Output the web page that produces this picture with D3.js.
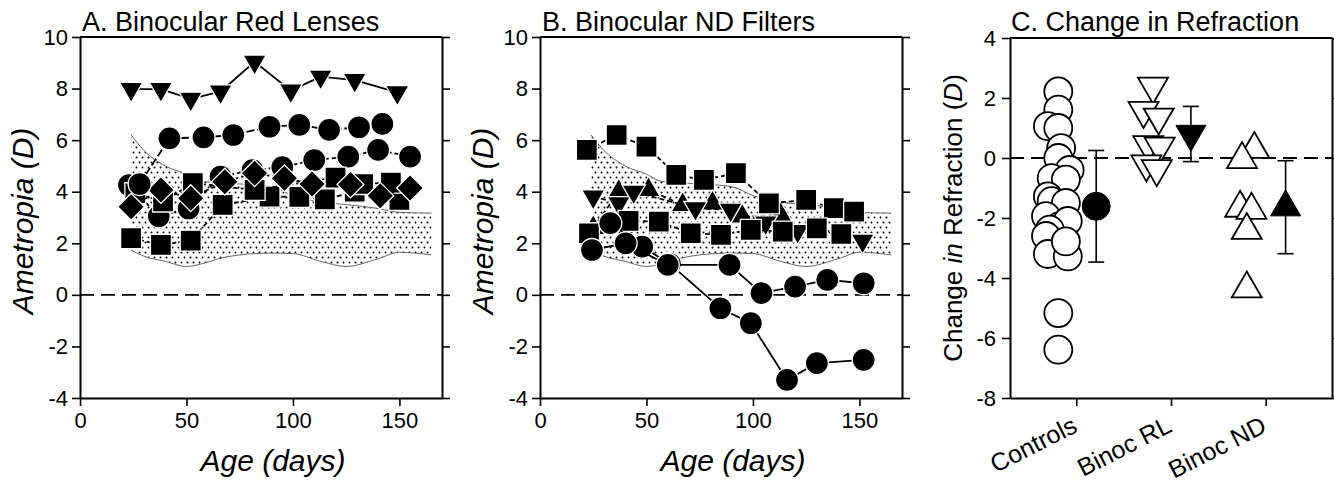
<!DOCTYPE html>
<html>
<head>
<meta charset="utf-8">
<script src="https://cdn.jsdelivr.net/npm/d3@7"></script>
<style>
  body { margin: 0; background: #fff; }
  text { font-family: "Liberation Sans", Arial, sans-serif; fill: #000; }
</style>
</head>
<body>
<div id="chart"></div>
<script>
// ---- data ----
// normal range of untreated monkeys (shaded band), same in A and B
const bandAge = [24, 30, 40, 50, 57, 65, 75, 90, 100, 113, 125, 140, 150, 165];
const bandLo  = [1.74, 1.5, 1.3, 1.1, 1.2, 1.4, 1.55, 1.62, 1.6, 1.3, 1.1, 1.4, 1.65, 1.55];
const bandHi  = [6.2, 5.6, 5.0, 4.68, 4.4, 4.35, 4.3, 4.2, 3.85, 3.6, 3.5, 3.35, 3.2, 3.17];

// A. binocular red lenses
const redTriAge = [24, 38, 52, 66, 82, 99, 113, 129, 149];
const redTriVal = [7.98, 7.98, 7.6, 7.88, 9.04, 7.92, 8.46, 8.33, 7.85];
const redCirc1Age = [28, 42, 58, 72, 89, 103, 117, 131, 142];
const redCirc1Val = [4.3, 6.07, 6.11, 6.2, 6.52, 6.59, 6.4, 6.5, 6.63];
const redCirc2Age = [23, 37, 51, 66, 81, 95, 110, 126, 140, 155];
const redCirc2Val = [4.26, 3.05, 3.35, 4.59, 4.84, 4.95, 5.23, 5.36, 5.62, 5.36];
const redSq1Age = [24, 38, 52, 67, 89, 103, 115, 129, 150];
const redSq1Val = [2.2, 1.94, 2.1, 3.49, 3.81, 3.8, 3.7, 4.0, 3.68];
const redSq2Age = [26, 39, 53, 82, 120, 133, 146];
const redSq2Val = [3.94, 3.62, 4.33, 4.07, 4.55, 4.3, 4.35];
const redDiaAge = [24, 38, 52, 68, 82, 96, 109, 127, 141, 155];
const redDiaVal = [3.42, 4.07, 3.75, 4.39, 4.72, 4.52, 4.3, 4.28, 3.84, 4.14];

// B. binocular ND filters
const ndSq1Age = [22, 36, 50, 64, 77, 92, 107.5, 125, 138, 147.5];
const ndSq1Val = [5.62, 6.2, 5.75, 4.65, 4.46, 4.72, 3.55, 3.68, 3.36, 3.23];
const ndSq2Age = [23, 41.6, 55.8, 70.8, 85, 99, 114, 130, 141.5];
const ndSq2Val = [2.39, 2.87, 2.84, 2.39, 2.33, 2.52, 2.45, 2.58, 2.36];
const ndTriDnAge = [25, 37, 44, 73, 89.5, 106, 121, 151.5];
const ndTriDnVal = [3.81, 3.55, 4.0, 3.36, 3.3, 2.8, 2.47, 2.1];
const ndTriUpAge = [25, 37, 51, 67, 81, 95, 113];
const ndTriUpVal = [2.6, 4.0, 4.07, 3.49, 3.55, 3.04, 3.1];
const ndCirc1Age = [24.4, 40.2, 60, 89, 104, 119.8, 134.9, 152];
const ndCirc1Val = [1.74, 2.0, 1.16, 1.16, 0.07, 0.32, 0.58, 0.45];
const ndCirc2Age = [33, 48, 61, 84.7, 99, 116, 130, 152];
const ndCirc2Val = [2.78, 1.87, 1.2, -0.52, -1.1, -3.3, -2.65, -2.52];

// C. change in refraction (individuals + mean +/- SD)
const groupNames = ["Controls", "Binoc RL", "Binoc ND"];
const controlsChange = [2.22, 1.61, 1.06, 1.0, 0.33, 0.0, -0.4, -0.67, -0.72, -1.28, -1.44, -1.5,
                        -1.94, -2.28, -2.1, -2.39, -2.6, -3.2, -3.28, -2.78, -5.17, -6.39];
const controlsJitter = [-0.19, -0.19, -0.30, -0.19, -0.16, -0.19, -0.07, -0.26, -0.11, -0.30, -0.26, -0.11,
                        -0.32, -0.18, -0.09, -0.28, -0.32, -0.30, -0.09, -0.11, -0.19, -0.19];
const rlChange = [2.39, 1.58, 1.36, 0.44, 0.39, -0.2, -0.36];
const rlJitter = [-0.19, -0.29, -0.13, -0.24, -0.12, -0.26, -0.15];
const ndChange = [0.29, -0.05, -1.67, -1.74, -2.41, -4.36];
const ndJitter = [-0.12, -0.25, -0.27, -0.15, -0.20, -0.20];
const groupMean = [-1.61, 0.8, -1.64];
const groupSD = [1.86, 0.92, 1.55];

// ---- drawing ----
const width = 1334, height = 483;
const svg = d3.select("#chart").append("svg")
  .attr("width", width)
  .attr("height", height);

// dotted fill for the normal range
const pat = svg.append("defs").append("pattern")
  .attr("id", "dots").attr("width", 6).attr("height", 10)
  .attr("patternUnits", "userSpaceOnUse");
pat.append("circle").attr("cx", 1.5).attr("cy", 2.5).attr("r", 1).attr("fill", "#000");
pat.append("circle").attr("cx", 4.5).attr("cy", 7.5).attr("r", 1).attr("fill", "#000");

const shapes = {
  circle:  { type: d3.symbolCircle, size: Math.PI * 11.5 * 11.5, rot: 0 },
  square:  { type: d3.symbolSquare, size: 21 * 21, rot: 0 },
  diamond: { type: d3.symbolSquare, size: 19 * 19, rot: 45 },
  triDown: { type: d3.symbolTriangle, size: 235, rot: 180 },
  triUp:   { type: d3.symbolTriangle, size: 235, rot: 0 }
};

const plain = d => String(d);   // hyphen minus, like the original

function styleAxis(g) {
  g.selectAll("path.domain").attr("stroke", "#000").attr("stroke-width", 2);
  g.selectAll(".tick line").attr("stroke", "#000").attr("stroke-width", 1.6);
  g.selectAll(".tick text").style("font-size", "22px")
    .style("font-family", "'Liberation Sans', Arial, sans-serif");
}

function frame(x, y, yTicks) {
  const [x0, x1] = x.range();
  const [y0, y1] = y.range();
  svg.append("g").attr("transform", `translate(${x1},0)`)
    .call(d3.axisRight(y).tickValues(yTicks).tickSize(8).tickSizeOuter(0).tickFormat(""))
    .call(styleAxis);
  svg.append("line").attr("x1", x0).attr("x2", x1).attr("y1", y1).attr("y2", y1)
    .attr("stroke", "#000").attr("stroke-width", 2);
}

function zeroLine(x, y) {
  svg.append("line")
    .attr("x1", x.range()[0]).attr("x2", x.range()[1])
    .attr("y1", y(0)).attr("y2", y(0))
    .attr("stroke", "#000").attr("stroke-width", 1.8)
    .attr("stroke-dasharray", "14,7");
}

function timePanel(left, title, series) {
  const x = d3.scaleLinear().domain([0, 170]).range([left, left + 362]);
  const y = d3.scaleLinear().domain([-4, 10]).range([398, 37]);
  const yTicks = d3.range(-4, 11, 2);

  // normal range band
  const band = bandAge.map((a, i) => ({ a, lo: bandLo[i], hi: bandHi[i] }));
  svg.append("path").datum(band)
    .attr("d", d3.area().x(d => x(d.a)).y0(d => y(d.lo)).y1(d => y(d.hi)).curve(d3.curveMonotoneX))
    .attr("fill", "url(#dots)");
  ["lo", "hi"].forEach(k => {
    svg.append("path").datum(band)
      .attr("d", d3.line().x(d => x(d.a)).y(d => y(d[k])).curve(d3.curveMonotoneX))
      .attr("fill", "none").attr("stroke", "#555").attr("stroke-width", 0.9);
  });

  zeroLine(x, y);

  series.forEach(s => {
    const pts = s.age.map((a, i) => ({ a, v: s.val[i] }));
    svg.append("path").datum(pts)
      .attr("d", d3.line().x(d => x(d.a)).y(d => y(d.v)))
      .attr("fill", "none").attr("stroke", "#000").attr("stroke-width", 1.8)
      .attr("stroke-dasharray", s.dash || null);
    const sh = shapes[s.shape];
    svg.append("g").selectAll("path").data(pts).join("path")
      .attr("d", d3.symbol(sh.type, sh.size))
      .attr("transform", d => `translate(${x(d.a)},${y(d.v)}) rotate(${sh.rot})`)
      .attr("fill", "#000").attr("stroke", "#fff").attr("stroke-width", 1.3);
  });

  svg.append("g").attr("transform", "translate(0,398)")
    .call(d3.axisBottom(x).tickValues([0, 50, 100, 150]).tickSize(8).tickSizeOuter(0).tickPadding(6).tickFormat(plain))
    .call(styleAxis);
  svg.append("g").attr("transform", `translate(${left},0)`)
    .call(d3.axisLeft(y).tickValues(yTicks).tickSize(8).tickSizeOuter(0).tickPadding(4).tickFormat(plain))
    .call(styleAxis);
  frame(x, y, yTicks);

  svg.append("text").attr("x", left + 2).attr("y", 31)
    .style("font-size", "27px").text(title);
  svg.append("text").attr("x", left + 193).attr("y", 471)
    .attr("text-anchor", "middle").style("font-size", "30px").style("font-style", "italic")
    .text("Age (days)");
  svg.append("text")
    .attr("transform", `translate(${left - 47},221) rotate(-90)`)
    .attr("text-anchor", "middle").style("font-size", "30px").style("font-style", "italic")
    .text("Ametropia (D)");
}

timePanel(80, "A. Binocular Red Lenses", [
  { age: redCirc2Age, val: redCirc2Val, shape: "circle", dash: "5,3" },
  { age: redSq1Age, val: redSq1Val, shape: "square", dash: "5,3" },
  { age: redSq2Age, val: redSq2Val, shape: "square", dash: "5,3" },
  { age: redDiaAge, val: redDiaVal, shape: "diamond", dash: "5,3" },
  { age: redCirc1Age, val: redCirc1Val, shape: "circle", dash: "8,3" },
  { age: redTriAge, val: redTriVal, shape: "triDown", dash: null }
]);

timePanel(540, "B. Binocular ND Filters", [
  { age: ndTriUpAge, val: ndTriUpVal, shape: "triUp", dash: "5,3" },
  { age: ndTriDnAge, val: ndTriDnVal, shape: "triDown", dash: "5,3" },
  { age: ndSq1Age, val: ndSq1Val, shape: "square", dash: "5,3" },
  { age: ndSq2Age, val: ndSq2Val, shape: "square", dash: "5,3" },
  { age: ndCirc2Age, val: ndCirc2Val, shape: "circle", dash: null },
  { age: ndCirc1Age, val: ndCirc1Val, shape: "circle", dash: null }
]);

// ---- panel C ----
(function () {
  const x = d3.scaleLinear().domain([0.3, 3.7]).range([1010, 1332]);
  const y = d3.scaleLinear().domain([-8, 4]).range([398, 38]);
  const yTicks = d3.range(-8, 5, 2);
  const meanShift = 0.21;

  zeroLine(x, y);

  const groups = [
    { vals: controlsChange, jit: controlsJitter, shape: { type: d3.symbolCircle, size: Math.PI * 14 * 14, rot: 0 } },
    { vals: rlChange, jit: rlJitter, shape: { type: d3.symbolTriangle, size: 390, rot: 180 } },
    { vals: ndChange, jit: ndJitter, shape: { type: d3.symbolTriangle, size: 390, rot: 0 } }
  ];

  groups.forEach((g, gi) => {
    const cx = gi + 1;
    svg.append("g").selectAll("path").data(g.vals).join("path")
      .attr("d", d3.symbol(g.shape.type, g.shape.size))
      .attr("transform", (v, i) => `translate(${x(cx + g.jit[i])},${y(v)}) rotate(${g.shape.rot})`)
      .attr("fill", "#fff").attr("stroke", "#000").attr("stroke-width", 1.8);

    // mean +/- SD
    const mx = x(cx + meanShift);
    const hi = y(groupMean[gi] + groupSD[gi]), lo = y(groupMean[gi] - groupSD[gi]);
    const eb = svg.append("g").attr("stroke", "#000").attr("stroke-width", 1.6);
    eb.append("line").attr("x1", mx).attr("x2", mx).attr("y1", hi).attr("y2", lo);
    eb.append("line").attr("x1", mx - 8).attr("x2", mx + 8).attr("y1", hi).attr("y2", hi);
    eb.append("line").attr("x1", mx - 8).attr("x2", mx + 8).attr("y1", lo).attr("y2", lo);
    svg.append("path")
      .attr("d", d3.symbol(g.shape.type, g.shape.size))
      .attr("transform", `translate(${mx},${y(groupMean[gi])}) rotate(${g.shape.rot})`)
      .attr("fill", "#000").attr("stroke", "#000").attr("stroke-width", 1);
  });

  const xAx = svg.append("g").attr("transform", "translate(0,398)")
    .call(d3.axisBottom(x).tickValues([1, 2, 3]).tickSize(8).tickSizeOuter(0)
      .tickFormat(d => groupNames[d - 1]))
    .call(styleAxis);
  xAx.selectAll(".tick text")
    .attr("text-anchor", "end")
    .attr("transform", "translate(2,33) rotate(-27)")
    .attr("dy", 0).attr("y", 0).attr("x", 0)
    .style("font-size", "25px");

  svg.append("g").attr("transform", "translate(1010,0)")
    .call(d3.axisLeft(y).tickValues(yTicks).tickSize(8).tickSizeOuter(0).tickPadding(6).tickFormat(plain))
    .call(styleAxis);
  frame(x, y, yTicks);

  svg.append("text").attr("x", 1011).attr("y", 31)
    .style("font-size", "27px").text("C. Change in Refraction");

  const yl = svg.append("text")
    .attr("transform", "translate(962,218) rotate(-90)")
    .attr("text-anchor", "middle").style("font-size", "26px");
  yl.append("tspan").text("Change ");
  yl.append("tspan").style("font-style", "italic").text("in");
  yl.append("tspan").text(" Refraction (");
  yl.append("tspan").style("font-style", "italic").text("D");
  yl.append("tspan").text(")");
})();
</script>
</body>
</html>
